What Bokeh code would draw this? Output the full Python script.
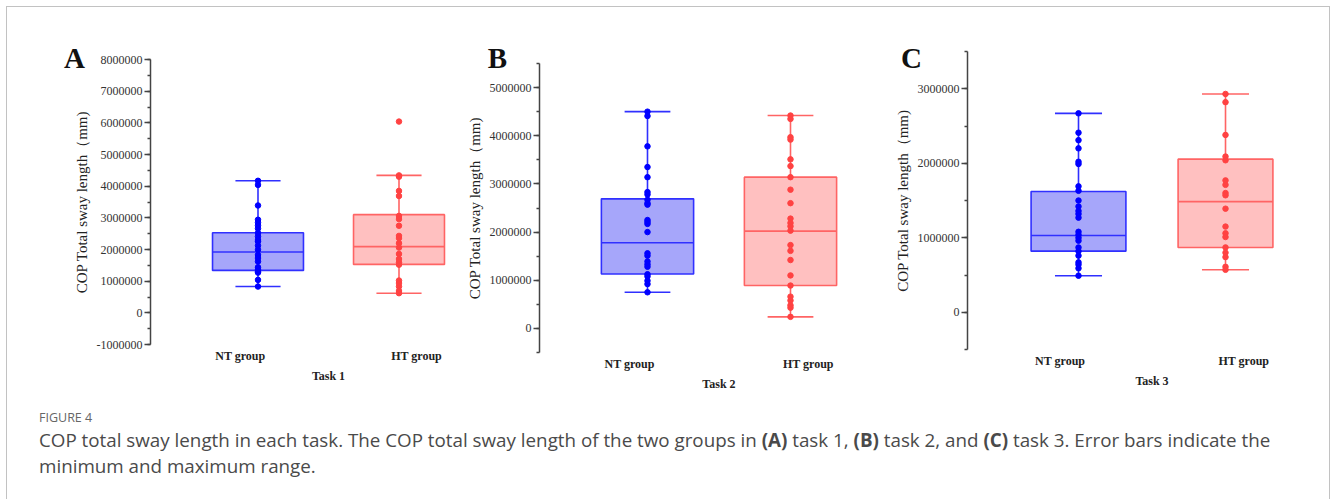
from bokeh.plotting import figure
from bokeh.models import (ColumnDataSource, Range1d, LinearAxis, FixedTicker,
                          SingleIntervalTicker, PrintfTickFormatter, Label, Div)
from bokeh.layouts import row, column
from bokeh.embed import file_html
from bokeh.resources import INLINE

# ---------------- data ----------------
groups = ["NT group", "HT group"]
tasks = ["Task 1", "Task 2", "Task 3"]
letters = ["A", "B", "C"]
y_label = "COP Total sway length（mm)"

# five-number summaries: [min, q1, median, q3, max]
task1_nt_box = [830000, 1340000, 1920000, 2530000, 4170000]
task1_ht_box = [620000, 1530000, 2090000, 3100000, 4340000]
task2_nt_box = [750000, 1130000, 1780000, 2690000, 4500000]
task2_ht_box = [240000, 890000, 2020000, 3140000, 4420000]
task3_nt_box = [490000, 820000, 1030000, 1620000, 2670000]
task3_ht_box = [570000, 870000, 1485000, 2055000, 2930000]

task1_nt_pts = [4170000, 4040000, 3390000, 2940000, 2850000, 2760000, 2660000, 2520000,
                2410000, 2300000, 2250000, 2120000, 1990000, 1830000, 1730000, 1620000,
                1440000, 1360000, 1310000, 1270000, 1040000, 830000]
task1_ht_pts = [6040000, 4340000, 4300000, 3850000, 3690000, 3060000, 2960000, 2750000,
                2430000, 2360000, 2200000, 2060000, 1860000, 1700000, 1590000, 1520000,
                1020000, 940000, 830000, 690000, 620000]
task2_nt_pts = [4500000, 4410000, 3780000, 3350000, 3140000, 2830000, 2780000, 2670000,
                2600000, 2570000, 2250000, 2210000, 2170000, 2000000, 1560000, 1510000,
                1390000, 1330000, 1280000, 1125000, 1080000, 990000, 920000, 750000]
task2_ht_pts = [4420000, 4350000, 3970000, 3920000, 3510000, 3370000, 3140000, 2880000,
                2600000, 2280000, 2190000, 2120000, 2030000, 1730000, 1610000, 1420000,
                1100000, 890000, 660000, 580000, 480000, 430000, 240000]
task3_nt_pts = [2670000, 2410000, 2310000, 2200000, 2020000, 1990000, 1690000, 1630000,
                1500000, 1420000, 1360000, 1320000, 1270000, 1080000, 1040000, 1000000,
                960000, 870000, 820000, 760000, 670000, 640000, 590000, 490000]
task3_ht_pts = [2930000, 2820000, 2380000, 2090000, 2040000, 1770000, 1710000, 1600000,
                1570000, 1390000, 1150000, 1060000, 1010000, 870000, 800000, 740000,
                610000, 570000]

boxes = [(task1_nt_box, task1_ht_box), (task2_nt_box, task2_ht_box), (task3_nt_box, task3_ht_box)]
points = [(task1_nt_pts, task1_ht_pts), (task2_nt_pts, task2_ht_pts), (task3_nt_pts, task3_ht_pts)]
y_ranges = [(-1000000, 8000000), (-500000, 5500000), (-500000, 3500000)]

# ---------------- styling / layout ----------------
SERIF = "Liberation Serif"
BOX_W = 0.645
CAP_W = 0.32
LINE_C = ["#3030ff", "#ff6464"]
FILL_C = ["#a6a6fa", "#ffc0c0"]
DOT_C = ["#0000ff", "#ff4242"]

# width, height, borders, x range, panel-letter offset (px from frame's top-left corner)
geom = [
    dict(w=462, h=395, l=150, r=4, t=59, b=51, xs=0.2376, xe=2.422, lx=-76, ly=2),
    dict(w=423, h=395, l=77, r=5, t=63, b=43, xs=0.2448, xe=2.6294, lx=-42, ly=6),
    dict(w=445, h=395, l=82, r=15, t=51, b=46, xs=0.2449, xe=2.6122, lx=-56, ly=-6),
]


def make_panel(i):
    g = geom[i]
    p = figure(width=g["w"], height=g["h"], output_backend="svg", toolbar_location=None,
               x_axis_type=None, tools="",
               x_range=Range1d(g["xs"], g["xe"]), y_range=Range1d(*y_ranges[i]),
               min_border_left=g["l"], min_border_right=g["r"],
               min_border_top=g["t"], min_border_bottom=g["b"])
    p.frame_align = False
    p.outline_line_color = None
    p.grid.visible = False
    p.border_fill_color = None
    p.background_fill_color = "white"

    for k in range(2):
        xc = k + 1
        mn, q1, med, q3, mx = boxes[i][k]
        src = ColumnDataSource(dict(x=[xc], q1=[q1], q3=[q3], med=[med], mn=[mn], mx=[mx],
                                    xl=[xc - BOX_W / 2], xr=[xc + BOX_W / 2],
                                    cl=[xc - CAP_W / 2], cr=[xc + CAP_W / 2]))
        p.vbar(x="x", width=BOX_W, top="q3", bottom="q1", source=src,
               fill_color=FILL_C[k], line_color=LINE_C[k], line_width=1.6)
        p.segment(x0="xl", x1="xr", y0="med", y1="med", source=src,
                  line_color=LINE_C[k], line_width=1.6)
        p.segment(x0="x", x1="x", y0="q3", y1="mx", source=src,
                  line_color=LINE_C[k], line_width=1.6)
        p.segment(x0="x", x1="x", y0="q1", y1="mn", source=src,
                  line_color=LINE_C[k], line_width=1.6)
        p.segment(x0="cl", x1="cr", y0="mx", y1="mx", source=src,
                  line_color=LINE_C[k], line_width=1.6)
        p.segment(x0="cl", x1="cr", y0="mn", y1="mn", source=src,
                  line_color=LINE_C[k], line_width=1.6)
        pts = points[i][k]
        p.scatter(x=[xc] * len(pts), y=pts, size=5.5, marker="circle",
                  fill_color=DOT_C[k], line_color=DOT_C[k])

    # y axis
    ya = p.yaxis[0]
    ya.ticker = SingleIntervalTicker(interval=1000000, num_minor_ticks=2)
    ya.formatter = PrintfTickFormatter(format="%d")
    ya.axis_label = y_label
    ya.axis_label_text_font = SERIF
    ya.axis_label_text_font_style = "normal"
    ya.axis_label_text_font_size = "15px"
    ya.axis_label_text_color = "#222222"
    ya.axis_label_standoff = 4
    ya.major_label_text_font = SERIF
    ya.major_label_text_font_size = "12px"
    ya.major_label_text_color = "#333333"
    ya.major_label_standoff = 2
    ya.axis_line_color = "#444444"
    ya.axis_line_width = 1.5
    ya.major_tick_line_color = "#444444"
    ya.major_tick_line_width = 1.5
    ya.major_tick_out = 6
    ya.major_tick_in = 0
    ya.minor_tick_line_color = "#444444"
    ya.minor_tick_line_width = 1.5
    ya.minor_tick_out = 3
    ya.minor_tick_in = 0

    # group labels
    xa = LinearAxis(ticker=FixedTicker(ticks=[0.875, 2.125]),
                    major_label_overrides={0.875: groups[0], 2.125: groups[1]})
    # task label
    xb = LinearAxis(ticker=FixedTicker(ticks=[1.5]),
                    major_label_overrides={1.5: tasks[i]})
    for ax, so in ((xa, 4), (xb, 3)):
        ax.axis_line_color = None
        ax.major_tick_line_color = None
        ax.minor_tick_line_color = None
        ax.major_tick_out = 0
        ax.major_tick_in = 0
        ax.minor_tick_out = 0
        ax.minor_tick_in = 0
        ax.major_label_text_font = SERIF
        ax.major_label_text_font_style = "bold"
        ax.major_label_text_font_size = "12px"
        ax.major_label_text_color = "#222222"
        ax.major_label_standoff = so
        p.add_layout(ax, "below")

    # panel letter, placed in the panel above the frame (side panels are not clipped)
    p.add_layout(Label(x=g["lx"], y=g["ly"], x_units="screen", y_units="screen",
                       text=letters[i], text_font=SERIF, text_font_style="bold",
                       text_font_size="29px", text_color="#111111",
                       text_align="center", text_baseline="middle"), "above")
    return p


panels = [make_panel(i) for i in range(3)]

caption_html = (
    '<div style="font-family:\'Open Sans\',sans-serif;margin:14px 0 0 39px;white-space:nowrap;">'
    '<div style="font-size:12.5px;line-height:18px;color:#666666;">FIGURE 4</div>'
    '<div style="font-size:18.8px;line-height:26px;color:#4a4a4a;">'
    'COP total sway length in each task. The COP total sway length of the two groups in '
    '<b>(A)</b> task 1, <b>(B)</b> task 2, and <b>(C)</b> task 3. Error bars indicate the'
    '<br>minimum and maximum range.</div></div>'
)
caption = Div(text=caption_html, width=1330, height=104, margin=0)

layout = column(row(*panels, spacing=0), caption, spacing=0,
                styles={"box-shadow": "inset 6px 6px 0 0 #ffffff, inset 7px 7px 0 0 #c2c2c2, "
                                      "inset -1px 0 0 0 #c2c2c2"})

open("out.html", "w").write(file_html(layout, INLINE))
